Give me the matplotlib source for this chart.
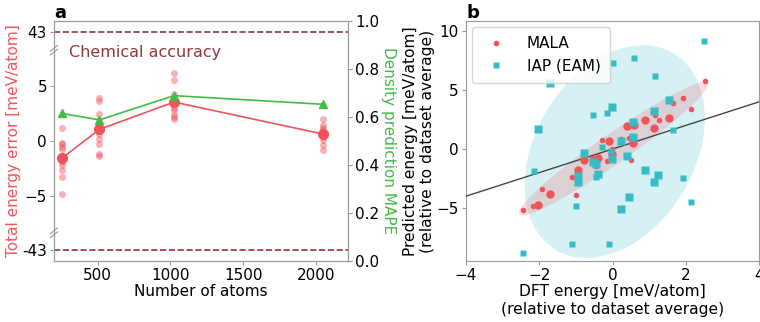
import numpy as np
import matplotlib
matplotlib.use("Agg")
import matplotlib.pyplot as plt
from matplotlib.patches import Ellipse
import matplotlib.transforms as transforms

# ---- panel a data ----
n_atoms = [256, 512, 1024, 2048]
energy_err_256 = [1.16, -0.15, -0.31, -0.58, -0.76, -1.9, -2.2, -2.66, -3.3, -4.86]
energy_err_512 = [3.91, 3.7, 2.48, 1.41, 1.16, 0.64, 0.18, -0.25, -1.19, -1.38]
energy_err_1024 = [6.2, 5.6, 4.3, 3.8, 3.4, 3.0, 2.8, 2.4, 2.2, 2.0]
energy_err_2048 = [2.0, 1.5, 1.2, 1.0, 0.8, 0.6, 0.4, 0.1, -0.4, -0.8]
density_mape = [0.615, 0.588, 0.689, 0.653]
chem_acc = 43.0

# ---- panel b data ----
mala_dft_big = [1.55, 1.14, 0.89, 0.58, 0.39, 0.57, -0.1, -0.01, -0.41, -0.78, -0.95, -1.71, -2.03]
mala_pred_big = [2.63, 1.78, 2.44, 2.07, 1.92, 0.47, 0.7, -0.41, -0.75, -0.96, -1.81, -3.78, -4.72]
mala_dft_small = [2.51, 1.91, 1.64, 2.14, 1.17, 1.26, 0.44, 0.22, -0.29, -0.01, -0.14, 0.49,
                  -0.55, -0.45, -1.11, -1.0, -2.16, -2.44, -1.93]
mala_pred_small = [5.8, 4.29, 3.86, 3.43, 2.92, 2.44, 0.92, 0.87, 0.75, 0.02, -0.98, -0.9,
                   -0.75, -1.47, -2.38, -3.89, -4.83, -5.2, -3.38]
iap_dft_big = [-1.71, 1.55, 1.14, -0.01, -2.03, 0.57, 0.57, 0.22, -0.78, -0.01, 0.39, -0.53,
               -0.46, -0.41, -0.93, -0.93, 1.25, 1.14, 0.89, 0.44, 0.22]
iap_pred_big = [5.55, 4.14, 3.2, 3.52, 1.7, 2.32, 1.04, 0.7, -0.33, -0.84, -0.61, -1.12,
                -1.3, -2.09, -2.32, -2.8, -2.24, -2.8, -1.81, -4.1, -5.07]
iap_dft_small = [2.5, 0.59, 0.0, 1.17, -0.53, -0.16, 1.64, -0.29, -0.03, -0.46, -2.14, 1.91,
                 -1.0, 2.14, -1.11, -0.1, -2.44]
iap_pred_small = [9.15, 7.73, 7.3, 6.2, 2.89, 3.06, 1.64, 0.15, -0.2, -2.4, -1.84, -2.46,
                  -4.87, -4.45, -8.07, -8.07, -8.84]

red = '#f0545a'
green = '#44bb44'
cyan = '#36bcc6'
dark_red = '#8b3a3a'
grey = '#999999'


def to_axis(v):
    # broken axis: +-43 drawn at +-10, the rest is linear
    v = np.asarray(v, dtype=float)
    return np.where(np.abs(v) > 20, np.sign(v) * 10, v)


def confidence_ellipse(x, y, ax, n_std=2.0, **kwargs):
    x = np.asarray(x); y = np.asarray(y)
    cov = np.cov(x, y)
    pearson = cov[0, 1] / np.sqrt(cov[0, 0] * cov[1, 1])
    rx = np.sqrt(1 + pearson)
    ry = np.sqrt(1 - pearson)
    ell = Ellipse((0, 0), width=rx * 2, height=ry * 2, **kwargs)
    sx = np.sqrt(cov[0, 0]) * n_std
    sy = np.sqrt(cov[1, 1]) * n_std
    tr = transforms.Affine2D().rotate_deg(45).scale(sx, sy).translate(np.mean(x), np.mean(y))
    ell.set_transform(tr + ax.transData)
    return ax.add_patch(ell)


plt.rcParams['font.size'] = 11
fig = plt.figure(figsize=(7.6, 3.22), dpi=100)
ax1 = fig.add_axes([0.071, 0.189, 0.387, 0.746])
ax2 = ax1.twinx()
axb = fig.add_axes([0.613, 0.189, 0.386, 0.746])

# panel a
all_err = [energy_err_256, energy_err_512, energy_err_1024, energy_err_2048]
for n, errs in zip(n_atoms, all_err):
    ax1.plot([n] * len(errs), errs, 'o', color=red, alpha=0.45, ms=5, mec='none')
means = [np.mean(e) for e in all_err]
ax1.plot(n_atoms, means, '-o', color=red, ms=7, lw=1.2)
ax1.axhline(to_axis(chem_acc), color=dark_red, ls='--', lw=1.2)
ax1.axhline(to_axis(-chem_acc), color=dark_red, ls='--', lw=1.2)
ax1.text(0.05, 0.867, 'Chemical accuracy', color=dark_red, transform=ax1.transAxes,
         va='center', fontsize=11.5)
ax1.set_ylim(-11, 11)
ax1.set_xlim(200, 2220)
ax1.set_yticks([-10, -5, 0, 5, 10])
ax1.set_yticklabels(['-43', '\u22125', '0', '5', '43'])
ax1.set_xticks([500, 1000, 1500, 2000])
ax1.set_xlabel('Number of atoms', labelpad=1)
ax1.set_ylabel('Total energy error [meV/atom]', color=red, labelpad=1)

# break marks on left spine
for yb in [0.878, 0.118]:
    for dy in [-0.008, 0.008]:
        ax1.plot([-0.012, 0.012], [yb + dy - 0.012, yb + dy + 0.012], color=grey, lw=0.8,
                 transform=ax1.transAxes, clip_on=False)

ax2.plot(n_atoms, density_mape, '-^', color=green, ms=6, lw=1.2)
ax2.set_ylim(0, 1)
ax2.set_yticks([0, 0.2, 0.4, 0.6, 0.8, 1.0])
ax2.set_ylabel('Density prediction MAPE', color=green, rotation=270, labelpad=12)

for a in (ax1, ax2, axb):
    for s in a.spines.values():
        s.set_color(grey)
    a.tick_params(color=grey, length=3, pad=2)

# panel b
confidence_ellipse(iap_dft_big + iap_dft_small, iap_pred_big + iap_pred_small, axb,
                   n_std=2.1, facecolor=cyan, alpha=0.2, edgecolor='none', zorder=1)
confidence_ellipse(mala_dft_big + mala_dft_small, mala_pred_big + mala_pred_small, axb,
                   n_std=2.0, facecolor=red, alpha=0.2, edgecolor='none', zorder=2)
axb.axline((0, 0), slope=1, color='#444444', lw=1, zorder=3)
axb.plot(mala_dft_small, mala_pred_small, 'o', color=red, ms=4, mec='none', label='MALA', zorder=4)
axb.plot(mala_dft_big, mala_pred_big, 'o', color=red, ms=6, mec='none', zorder=4)
axb.plot(iap_dft_small, iap_pred_small, 's', color=cyan, ms=4, mec='none', label='IAP (EAM)', zorder=5)
axb.plot(iap_dft_big, iap_pred_big, 's', color=cyan, ms=6, mec='none', zorder=5)
axb.set_xlim(-4, 4)
axb.set_ylim(-9.5, 10.85)
axb.set_xticks([-4, -2, 0, 2, 4])
axb.set_yticks([-5, 0, 5, 10])
axb.set_xlabel('DFT energy [meV/atom]\n(relative to dataset average)', labelpad=1, fontsize=11.2)
axb.set_ylabel('Predicted energy [meV/atom]\n(relative to dataset average)', labelpad=1, fontsize=11.2)
axb.legend(loc='upper left', fontsize=11, handletextpad=1.0, borderpad=0.6, borderaxespad=0.4)

fig.text(0.072, 0.945, 'a', fontsize=13, fontweight='bold')
fig.text(0.614, 0.945, 'b', fontsize=13, fontweight='bold')

fig.savefig('out.png', dpi=100)
